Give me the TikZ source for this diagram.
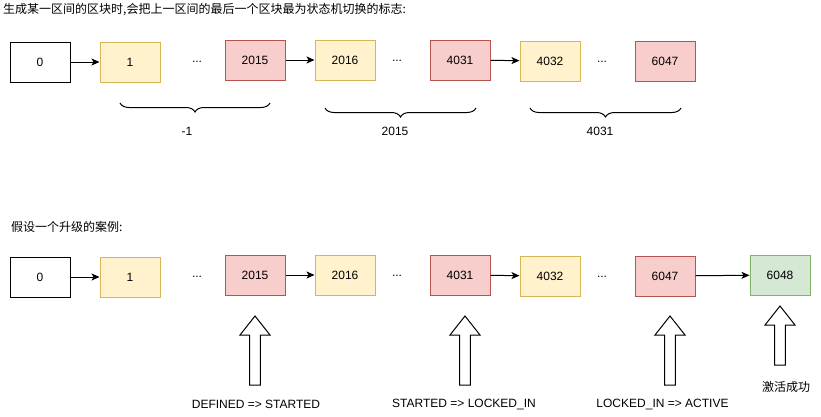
\documentclass[tikz,border=0pt]{standalone}
\usepackage{fontspec}
\setmainfont{Liberation Sans}
\newfontfamily\cjk{Noto Sans CJK SC}
\usetikzlibrary{arrows.meta,decorations.pathreplacing}
\definecolor{yfill}{HTML}{FFF2CC}\definecolor{ystroke}{HTML}{D6B656}
\definecolor{rfill}{HTML}{F8CECC}\definecolor{rstroke}{HTML}{B85450}
\definecolor{gfill}{HTML}{D5E8D4}\definecolor{gstroke}{HTML}{82B366}
\tikzset{
  blk/.style={draw, line width=1pt, minimum width=60pt, minimum height=40pt, inner sep=0pt, font=\fontsize{12pt}{14pt}\selectfont},
  wbox/.style={blk, draw=black, fill=white},
  ybox/.style={blk, draw=ystroke, fill=yfill},
  rbox/.style={blk, draw=rstroke, fill=rfill},
  gbox/.style={blk, draw=gstroke, fill=gfill},
  dots/.style={font=\fontsize{12pt}{14pt}\selectfont, inner sep=0pt},
  lbl/.style={font=\fontsize{12pt}{14pt}\selectfont, inner sep=0pt},
  conn/.style={line width=1pt, -{Stealth[length=8pt,width=7pt,inset=2pt]}},
  brc/.style={line width=1pt, decorate, decoration={brace, amplitude=9pt}},
  barrow/.style={draw=black, fill=white, line width=1pt, line join=miter},
}
\begin{document}
\begin{tikzpicture}[x=1pt, y=-1pt]
\useasboundingbox (0,0) rectangle (821,416);
% ---------- top row ----------
\node[lbl, anchor=west] (t1) at (3,10) {\cjk 生成某一区间的区块时,会把上一区间的最后一个区块最为状态机切换的标志:};
\node[wbox] (a0) at (40,62) {0};
\node[ybox] (a1) at (130,62) {1};
\node[dots] (ad1) at (197,62) {...};
\node[rbox] (a2015) at (255,60) {2015};
\node[ybox] (a2016) at (345,60) {2016};
\node[dots] (ad2) at (397,61) {...};
\node[rbox] (a4031) at (460,60) {4031};
\node[ybox] (a4032) at (550,61) {4032};
\node[dots] (ad3) at (602,62) {...};
\node[rbox] (a6047) at (665,61) {6047};
\draw[conn] (a0) -- (a1);
\draw[conn] (a2015) -- (a2016);
\draw[conn] (a4031) -- (a4032);
\coordinate (br1a) at (270,103); \coordinate (br1b) at (120,103);
\coordinate (br2a) at (476,108); \coordinate (br2b) at (325,108);
\coordinate (br3a) at (681,108); \coordinate (br3b) at (530,108);
\draw[brc] (br1a) -- (br1b);
\draw[brc] (br2a) -- (br2b);
\draw[brc] (br3a) -- (br3b);
\node[lbl] (l1) at (187,131) {-1};
\node[lbl] (l2) at (395,131) {2015};
\node[lbl] (l3) at (600,131) {4031};
% ---------- bottom row ----------
\node[lbl, anchor=west] (t2) at (11,227) {\cjk 假设一个升级的案例:};
\node[wbox] (b0) at (40,277) {0};
\node[ybox] (b1) at (130,277) {1};
\node[dots] (bd1) at (197,277) {...};
\node[rbox] (b2015) at (255,275) {2015};
\node[ybox] (b2016) at (345,275) {2016};
\node[dots] (bd2) at (397,276) {...};
\node[rbox] (b4031) at (460,275) {4031};
\node[ybox] (b4032) at (550,276) {4032};
\node[dots] (bd3) at (602,277) {...};
\node[rbox] (b6047) at (665,276) {6047};
\node[gbox] (b6048) at (780,275) {6048};
\draw[conn] (b0) -- (b1);
\draw[conn] (b2015) -- (b2016);
\draw[conn] (b4031) -- (b4032);
\draw[conn] (b6047) -- (b6048);
% block arrows: base coordinate at bottom centre
\coordinate (u1) at (255,385);
\coordinate (u2) at (465,385);
\coordinate (u3) at (670,385);
\coordinate (u4) at (780,365);
\foreach \u in {u1,u2,u3}{
  \draw[barrow] (\u) ++(-5.3,0) -- ++(0,-50) -- ++(-9.7,0) -- ++(15,-19) -- ++(15,19) -- ++(-9.7,0) -- ++(0,50) -- cycle;
}
\draw[barrow] (u4) ++(-5.3,0) -- ++(0,-40) -- ++(-9.7,0) -- ++(15,-19) -- ++(15,19) -- ++(-9.7,0) -- ++(0,40) -- cycle;
\node[lbl] (s1) at (256,404) {DEFINED => STARTED};
\node[lbl] (s2) at (464,404) {STARTED => LOCKED\_IN};
\node[lbl] (s3) at (662.5,404) {LOCKED\_IN => ACTIVE};
\node[lbl] (s4) at (786,387) {\cjk 激活成功};
\end{tikzpicture}
\end{document}
